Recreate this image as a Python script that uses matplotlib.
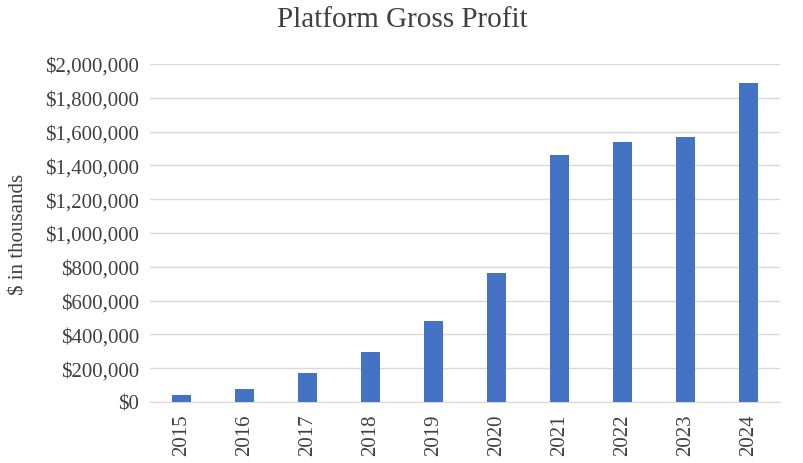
import matplotlib
matplotlib.use("Agg")
import matplotlib.pyplot as plt
from matplotlib.ticker import FuncFormatter

years = ["2015", "2016", "2017", "2018", "2019", "2020", "2021", "2022", "2023", "2024"]
gross_profit = [41000, 77000, 172000, 296000, 479000, 763000, 1461000, 1538000, 1568000, 1888000]

plt.rcParams["font.family"] = "Liberation Serif"
TEXT = "#404040"

fig = plt.figure(figsize=(8.04, 4.64), dpi=100)
ax = fig.add_axes([150 / 804, 1 - 403 / 464, 630 / 804, 338 / 464])
x = range(len(years))
ax.bar(x, gross_profit, width=0.31, color="#4472C4", zorder=3)
ax.set_xlim(-0.5, len(years) - 0.5)
ax.set_ylim(0, 2000000)
ax.set_yticks(range(0, 2000001, 200000))
ax.yaxis.set_major_formatter(FuncFormatter(lambda v, p: f"${v:,.0f}"))
ax.set_xticks(list(x))
ax.set_xticklabels(years, rotation=90)
ax.grid(axis="y", color="#d9d9d9", lw=1, zorder=0)
for s in ("top", "right", "left"):
    ax.spines[s].set_visible(False)
ax.spines["bottom"].set_color("#d9d9d9")
ax.tick_params(length=0, labelsize=15, colors=TEXT, pad=8)
ax.set_ylabel("$ in thousands", fontsize=15, color=TEXT, labelpad=12)
fig.text(0.5, 1 - 20 / 464, "Platform Gross Profit", ha="center", va="center",
         fontsize=21, color=TEXT)
fig.savefig("out.png", dpi=100)
